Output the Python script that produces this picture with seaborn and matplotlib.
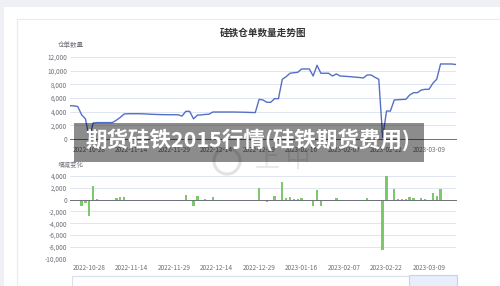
import numpy as np
import matplotlib
matplotlib.use("Agg")
import matplotlib.pyplot as plt
import seaborn as sns
from matplotlib.patches import Rectangle, Ellipse

sns.set_style("white")
plt.rcParams['font.family'] = ['Noto Sans CJK SC', 'DejaVu Sans']

title = "硅铁仓单数量走势图"
banner = "期货硅铁2015行情(硅铁期货费用)"
y1_name = "仓单数量"
y2_name = "增减变化"

dates = [
    "2022-10-21", "2022-10-24", "2022-10-25", "2022-10-26", "2022-10-27", "2022-10-28",
    "2022-10-31", "2022-11-01", "2022-11-02", "2022-11-03", "2022-11-04", "2022-11-07",
    "2022-11-08", "2022-11-09", "2022-11-10", "2022-11-11", "2022-11-14", "2022-11-15",
    "2022-11-16", "2022-11-17", "2022-11-18", "2022-11-21", "2022-11-22", "2022-11-23",
    "2022-11-24", "2022-11-25", "2022-11-28", "2022-11-29", "2022-11-30", "2022-12-01",
    "2022-12-02", "2022-12-05", "2022-12-06", "2022-12-07", "2022-12-08", "2022-12-09",
    "2022-12-12", "2022-12-13", "2022-12-14", "2022-12-15", "2022-12-16", "2022-12-19",
    "2022-12-20", "2022-12-21", "2022-12-22", "2022-12-23", "2022-12-26", "2022-12-27",
    "2022-12-28", "2022-12-29", "2022-12-30", "2023-01-03", "2023-01-04", "2023-01-05",
    "2023-01-06", "2023-01-09", "2023-01-10", "2023-01-11", "2023-01-12", "2023-01-13",
    "2023-01-16", "2023-01-17", "2023-01-18", "2023-01-19", "2023-01-20", "2023-01-30",
    "2023-01-31", "2023-02-01", "2023-02-02", "2023-02-03", "2023-02-06", "2023-02-07",
    "2023-02-08", "2023-02-09", "2023-02-10", "2023-02-13", "2023-02-14", "2023-02-15",
    "2023-02-16", "2023-02-17", "2023-02-20", "2023-02-21", "2023-02-22", "2023-02-23",
    "2023-02-24", "2023-02-27", "2023-02-28", "2023-03-01", "2023-03-02", "2023-03-03",
    "2023-03-06", "2023-03-07", "2023-03-08", "2023-03-09", "2023-03-10", "2023-03-13",
    "2023-03-14", "2023-03-15", "2023-03-16", "2023-03-17", "2023-03-20",
]

receipts = [
    4870, 4850, 4750, 3550, 2950, 100, 2350, 2400, 2400, 2400,
    2400, 2400, 2750, 3150, 3650, 3700, 3700, 3700, 3700, 3680,
    3650, 3620, 3600, 3580, 3560, 3560, 3550, 3550, 3550, 3350,
    4050, 4050, 2950, 3500, 3520, 3600, 3620, 3950, 3950, 3950,
    3950, 3950, 3950, 3940, 3930, 3920, 3900, 3880, 3870, 5810,
    5710, 5370, 5370, 5900, 5900, 8740, 9120, 9620, 9700, 9760,
    10250, 10250, 10250, 9220, 10790, 9620, 9620, 9620, 9220, 9520,
    9220, 9180, 9150, 9100, 9050, 9000, 8930, 9370, 9370, 9030,
    8740, 220, 4090, 4090, 5710, 5750, 5780, 5810, 6440, 6780,
    6780, 7170, 7270, 7270, 8150, 8740, 10980, 10980, 10980, 10970,
    10900,
]

changes = [
    -300, -30, -100, -1140, -560, -2850, 2270, 100, 0, 0,
    0, 0, 350, 400, 450, 0, 0, 0, 0, -20,
    0, 0, 0, 0, 0, 0, 0, 0, 0, -200,
    700, 0, -1100, 600, 0, 100, 0, 400, 0, 0,
    0, 0, 0, -20, 0, 0, 0, 0, 0, 2000,
    -100, -460, 0, 560, 0, 3000, 300, 450, 150, 50,
    350, 0, 0, -1140, 1600, -1020, 0, 0, -300, 250,
    -180, -30, -50, -50, -50, -50, 0, 280, 0, -220,
    -220, -8520, 3920, 0, 1760, 50, 50, 50, 450, 250,
    0, 250, 180, 0, 1200, 650, 1850, 0, 0, 0,
    0,
]

W, H = 500, 286
fig = plt.figure(figsize=(W / 100, H / 100), dpi=100)
fig.patch.set_facecolor("#eef0f5")

def fr(x0, y0, x1, y1):
    return [x0 / W, 1 - y1 / H, (x1 - x0) / W, (y1 - y0) / H]

# white card and inner border
card = Rectangle((4 / W, 0), 1, 1 - 7 / H, transform=fig.transFigure,
                 facecolor="white", edgecolor="none", zorder=-5)
fig.add_artist(card)
inner = Rectangle((17 / W, -0.1), 1, 1.1 - 19 / H, transform=fig.transFigure,
                  facecolor="none", edgecolor="#e9ebf0", lw=0.8, zorder=-4)
fig.add_artist(inner)

# faint watermark
wm = Ellipse((227 / W, 1 - 161 / H), 26 / W, 26 / H, transform=fig.transFigure,
             facecolor="none", edgecolor="#e3e3e3", lw=2.2, zorder=-3)
fig.add_artist(wm)
fig.text(283 / W, 1 - 160 / H, "上 中", ha="center", va="center",
         fontsize=18, color="#e8e8e8", zorder=-3)

grid_c = "#e0e6f1"
axis_c = "#6e7079"
lab_c = "#6e7079"
fs_tick = 4.6
xidx = np.arange(len(dates))
tick_pos = xidx[5::11]
tick_lab = dates[5::11]

# top chart
ax1 = fig.add_axes(fr(70, 57, 456, 139))
ax1.set_facecolor("none")
sns.lineplot(x=xidx, y=receipts, ax=ax1, color="#5470c6", lw=1.0)
ax1.set_xlim(0, len(dates) - 1)
ax1.set_ylim(0, 12000)
ax1.set_yticks(np.arange(0, 12001, 2000))
ax1.set_yticklabels([f"{v:,}" for v in range(0, 12001, 2000)])
ax1.grid(axis="y", color=grid_c, lw=0.7)
ax1.grid(axis="x", visible=False)
for s in ["top", "right", "left"]:
    ax1.spines[s].set_visible(False)
ax1.spines["bottom"].set_color(axis_c)
ax1.spines["bottom"].set_linewidth(0.7)
ax1.set_xticks(tick_pos)
ax1.set_xticklabels(tick_lab)
ax1.tick_params(axis="y", length=0, pad=2.2, labelsize=fs_tick, labelcolor=lab_c)
ax1.tick_params(axis="x", length=2.5, width=0.6, color=axis_c, pad=2.5,
                labelsize=fs_tick, labelcolor=lab_c)
ax1.set_xlabel("")
ax1.set_ylabel("")

# bottom chart
ax2 = fig.add_axes(fr(70, 176, 456, 258.7))
ax2.set_facecolor("none")
sns.barplot(x=dates, y=changes, ax=ax2, color="#7cc86a", saturation=1,
            width=0.62, edgecolor="none", linewidth=0)
ax2.set_xlim(0, len(dates) - 1)
ax2.set_ylim(-10000, 4000)
ax2.set_yticks(np.arange(-10000, 4001, 2000))
ax2.set_yticklabels([f"{v:,}" for v in range(-10000, 4001, 2000)])
ax2.grid(axis="y", color=grid_c, lw=0.7)
ax2.grid(axis="x", visible=False)
ax2.set_axisbelow(True)
for s in ["top", "right", "left"]:
    ax2.spines[s].set_visible(False)
ax2.spines["bottom"].set_position(("data", 0))
ax2.spines["bottom"].set_color(axis_c)
ax2.spines["bottom"].set_linewidth(0.7)
ax2.spines["bottom"].set_zorder(3)
ax2.set_xticks(tick_pos)
ax2.set_xticklabels([])
ax2.tick_params(axis="x", length=2.5, width=0.6, color=axis_c)
ax2.tick_params(axis="y", length=0, pad=2.2, labelsize=fs_tick, labelcolor=lab_c)
ax2.set_xlabel("")
ax2.set_ylabel("")
sec = ax2.secondary_xaxis(0)
sec.set_xticks(tick_pos)
sec.set_xticklabels(tick_lab)
sec.tick_params(length=0, pad=3.5, labelsize=fs_tick, labelcolor=lab_c)
sec.spines["bottom"].set_visible(False)

# titles
fig.text(263 / W, 1 - 32.5 / H, title, ha="center", va="center",
         fontsize=6.9, fontweight="bold", color="#333333")
fig.text(71 / W, 1 - 44.5 / H, y1_name, ha="center", va="center",
         fontsize=4.7, color=lab_c)
fig.text(71 / W, 1 - 165 / H, y2_name, ha="center", va="center",
         fontsize=4.7, color=lab_c)

# datazoom slider
slider = Rectangle((72 / W, -0.05), 385 / W, 0.05 + (286 - 276) / H,
                   transform=fig.transFigure, facecolor="none",
                   edgecolor="#d9dfec", lw=0.8, zorder=2)
fig.add_artist(slider)
handle = Rectangle((409 / W, -0.05), 48 / W, 0.05 + (286 - 274.5) / H,
                   transform=fig.transFigure, facecolor="#e8eefb",
                   edgecolor="#c5d2ee", lw=0.8, zorder=2)
fig.add_artist(handle)

# banner overlay
band = Rectangle((74 / W, 1 - 161.7 / H), 350 / W, 39 / H,
                 transform=fig.transFigure, facecolor="black", alpha=0.45,
                 edgecolor="none", zorder=10)
fig.add_artist(band)
fig.text(248.5 / W, 1 - 140 / H, banner, ha="center", va="center",
         fontsize=15.5, fontweight="bold", color="white", zorder=11)

fig.savefig("out.png", dpi=100, facecolor=fig.get_facecolor())
